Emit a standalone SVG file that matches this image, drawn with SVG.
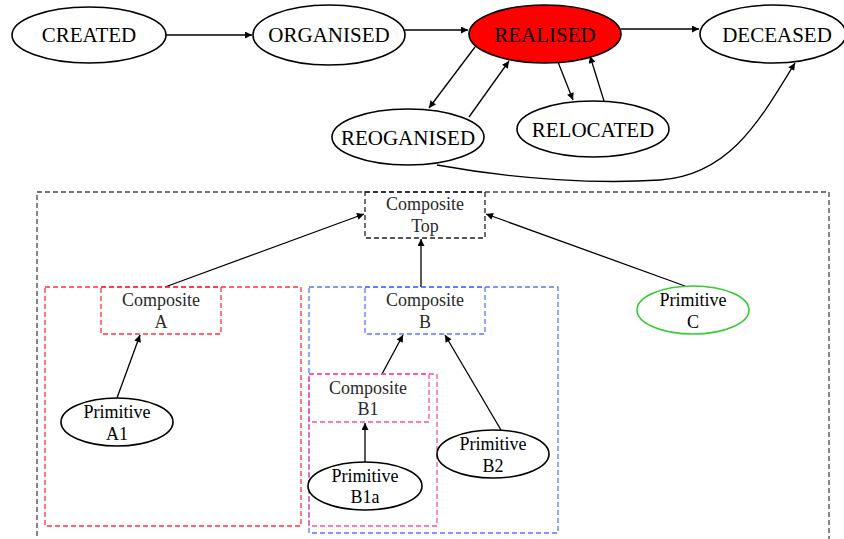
<svg xmlns="http://www.w3.org/2000/svg" width="844" height="539" viewBox="0 0 844 539">
<style>
.st{fill:#fff;stroke:#000;stroke-width:1.6}
.lbl{font-family:"Liberation Serif","Times New Roman",serif;font-size:21px;fill:#000;text-anchor:middle}
.t{font-family:"Liberation Serif","Times New Roman",serif;font-size:18px;text-anchor:middle}
.comp{fill:#2a2a2a}
.prim{fill:#000}
.pe{fill:#fff;stroke:#000;stroke-width:1.6}
.box{fill:none;stroke-width:1.3;stroke-dasharray:5,3}
.e{fill:none;stroke:#000;stroke-width:1.3}
</style>
<defs>
<marker id="ah" viewBox="0 0 10 10" refX="10" refY="5" markerWidth="9" markerHeight="7" markerUnits="userSpaceOnUse" orient="auto">
<path d="M0,0 L10,5 L0,10 Z" fill="#000"/>
</marker>
</defs>
<g id="containers">
<rect id="outer" class="box" x="37" y="192" width="792" height="360" stroke="#444"/>
<rect id="groupA" class="box" x="45" y="287" width="256" height="239" stroke="#ff3333"/>
<rect id="groupB" class="box" x="309" y="287" width="249" height="246" stroke="#5577ff"/>
<rect id="groupB1" class="box" x="309" y="374" width="128" height="152" stroke="#ff4fa8"/>
</g>
<g id="edges">
<line class="e" x1="166" y1="35" x2="252" y2="35" marker-end="url(#ah)"/>
<line class="e" x1="405" y1="30" x2="468" y2="30" marker-end="url(#ah)"/>
<line class="e" x1="621" y1="29" x2="699" y2="29" marker-end="url(#ah)"/>
<line class="e" x1="475" y1="47" x2="429" y2="108" marker-end="url(#ah)"/>
<line class="e" x1="469" y1="117" x2="509" y2="61" marker-end="url(#ah)"/>
<line class="e" x1="558" y1="62" x2="573" y2="100" marker-end="url(#ah)"/>
<line class="e" x1="604" y1="101" x2="590" y2="56" marker-end="url(#ah)"/>
<path class="e" d="M437,165 C520,180 600,184 660,180 C730,175 760,120 795,63" marker-end="url(#ah)"/>
<line class="e" x1="165" y1="287" x2="364" y2="214" marker-end="url(#ah)"/>
<line class="e" x1="421" y1="287" x2="421" y2="239" marker-end="url(#ah)"/>
<line class="e" x1="685" y1="286" x2="486" y2="214" marker-end="url(#ah)"/>
<line class="e" x1="117" y1="398" x2="140" y2="335" marker-end="url(#ah)"/>
<line class="e" x1="382" y1="374" x2="403" y2="335" marker-end="url(#ah)"/>
<line class="e" x1="501" y1="430" x2="445" y2="335" marker-end="url(#ah)"/>
<line class="e" x1="365" y1="462" x2="365" y2="423" marker-end="url(#ah)"/>
</g>
<g id="n-created"><ellipse class="st" cx="89" cy="35" rx="77" ry="28"/><text class="lbl" x="89" y="42">CREATED</text></g>
<g id="n-organised"><ellipse class="st" cx="329" cy="35" rx="76" ry="30"/><text class="lbl" x="329" y="42">ORGANISED</text></g>
<g id="n-realised"><ellipse cx="545" cy="34" rx="76" ry="29" fill="#ff0000" stroke="#000" stroke-width="1.6"/><text class="lbl" x="545" y="42">REALISED</text></g>
<g id="n-deceased"><ellipse class="st" cx="773" cy="34" rx="73" ry="29"/><text class="lbl" x="777" y="42">DECEASED</text></g>
<g id="n-reoganised"><ellipse class="st" cx="408" cy="137" rx="76" ry="28"/><text class="lbl" x="408" y="145">REOGANISED</text></g>
<g id="n-relocated"><ellipse class="st" cx="593" cy="129" rx="76" ry="28"/><text class="lbl" x="593" y="137">RELOCATED</text></g>
<g id="n-comp-top"><rect class="box" x="365" y="192" width="120" height="46" fill="#fff" stroke="#222"/><text class="t comp" x="425" y="210">Composite</text><text class="t comp" x="425" y="232">Top</text></g>
<g id="n-comp-a"><rect class="box" x="101" y="287" width="120" height="47" fill="#fff" stroke="#ff3333"/><text class="t comp" x="161" y="306">Composite</text><text class="t comp" x="161" y="328">A</text></g>
<g id="n-comp-b"><rect class="box" x="365" y="287" width="120" height="47" fill="#fff" stroke="#5577ff"/><text class="t comp" x="425" y="306">Composite</text><text class="t comp" x="425" y="328">B</text></g>
<g id="n-comp-b1"><rect class="box" x="309" y="374" width="120" height="48" fill="#fff" stroke="#ff4fa8"/><text class="t comp" x="368" y="394">Composite</text><text class="t comp" x="368" y="415">B1</text></g>
<g id="n-prim-c"><ellipse cx="693" cy="310" rx="56" ry="24" fill="#fff" stroke="#33cc33" stroke-width="1.6"/><text class="t prim" x="693" y="306">Primitive</text><text class="t prim" x="693" y="328">C</text></g>
<g id="n-prim-a1"><ellipse class="pe" cx="117" cy="422" rx="56" ry="24"/><text class="t prim" x="117" y="418">Primitive</text><text class="t prim" x="117" y="440">A1</text></g>
<g id="n-prim-b2"><ellipse class="pe" cx="493" cy="454" rx="56" ry="24"/><text class="t prim" x="493" y="450">Primitive</text><text class="t prim" x="493" y="472">B2</text></g>
<g id="n-prim-b1a"><ellipse class="pe" cx="365" cy="486" rx="57" ry="24"/><text class="t prim" x="365" y="482">Primitive</text><text class="t prim" x="365" y="503">B1a</text></g>
</svg>
